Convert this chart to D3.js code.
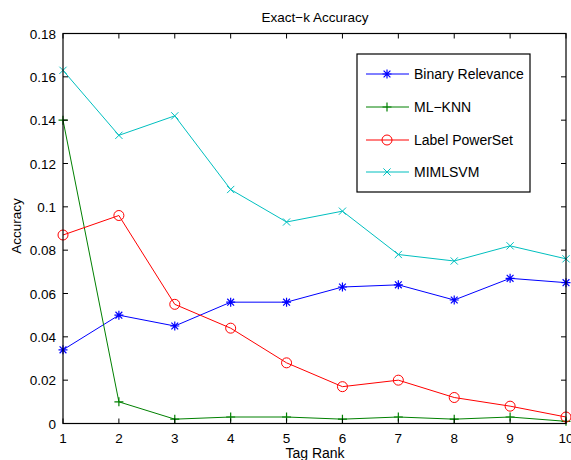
<!DOCTYPE html>
<html><head><meta charset="utf-8">
<script src="https://cdn.jsdelivr.net/npm/d3@7"></script>
<style>body{margin:0;background:#fff}svg{display:block;font-family:"Liberation Sans",Arial,sans-serif}</style>
</head><body>
<script>
const ranks = [1,2,3,4,5,6,7,8,9,10];
const seriesNames = ["Binary Relevance","ML\u2212KNN","Label PowerSet","MIMLSVM"];
const binaryRelevance = [0.034,0.050,0.045,0.056,0.056,0.063,0.064,0.057,0.067,0.065];
const mlKnn = [0.140,0.010,0.002,0.003,0.003,0.002,0.003,0.002,0.003,0.001];
const labelPowerSet = [0.087,0.096,0.055,0.044,0.028,0.017,0.020,0.012,0.008,0.003];
const mimlsvm = [0.163,0.133,0.142,0.108,0.093,0.098,0.078,0.075,0.082,0.076];
const yTicks = [0,0.02,0.04,0.06,0.08,0.1,0.12,0.14,0.16,0.18];
const yTickLabels = ["0","0.02","0.04","0.06","0.08","0.1","0.12","0.14","0.16","0.18"];
const colors = ["#0000ff","#008000","#ff0000","#00bfbf"];
const markers = ["star","plus","circle","x"];
const allValues = [binaryRelevance, mlKnn, labelPowerSet, mimlsvm];

const W=571,H=460;
const svg=d3.select("body").append("svg").attr("width",W).attr("height",H);
const L=63,R=566,T=33.5,B=423.5;
const x=d3.scaleLinear().domain([1,10]).range([L,R]);
const y=d3.scaleLinear().domain([0,0.18]).range([B,T]);
const FS=13.5;

const line=d3.line().x((d,i)=>x(ranks[i])).y(d=>y(d));
function drawMarker(g,type,cx,cy,c){
  const s=4.5;
  if(type==="circle"){g.append("circle").attr("cx",cx).attr("cy",cy).attr("r",5).attr("fill","none").attr("stroke",c).attr("stroke-width",1);}
  else if(type==="plus"){g.append("path").attr("d",`M${cx-s},${cy}H${cx+s}M${cx},${cy-s}V${cy+s}`).attr("stroke",c).attr("stroke-width",1.2);}
  else if(type==="x"){const k=3.6;g.append("path").attr("d",`M${cx-k},${cy-k}L${cx+k},${cy+k}M${cx-k},${cy+k}L${cx+k},${cy-k}`).attr("stroke",c).attr("stroke-width",1);}
  else {const k=3.4;g.append("path").attr("d",`M${cx-s},${cy}H${cx+s}M${cx},${cy-s}V${cy+s}M${cx-k},${cy-k}L${cx+k},${cy+k}M${cx-k},${cy+k}L${cx+k},${cy-k}`).attr("stroke",c).attr("stroke-width",1.2);}
}
allValues.forEach((vals,si)=>{
  const g=svg.append("g");
  g.append("path").datum(vals).attr("d",line).attr("fill","none").attr("stroke",colors[si]).attr("stroke-width",1);
  vals.forEach((v,i)=>drawMarker(g,markers[si],x(ranks[i]),y(v),colors[si]));
});

const ax=svg.append("g");
ax.append("rect").attr("x",L).attr("y",T).attr("width",R-L).attr("height",B-T).attr("fill","none").attr("stroke","#000").attr("stroke-width",1.2);
const tl=5;
ranks.forEach(r=>{
  ax.append("line").attr("x1",x(r)).attr("x2",x(r)).attr("y1",B).attr("y2",B-tl).attr("stroke","#000");
  ax.append("line").attr("x1",x(r)).attr("x2",x(r)).attr("y1",T).attr("y2",T+tl).attr("stroke","#000");
  ax.append("text").attr("x",x(r)).attr("y",B+19).attr("text-anchor","middle").attr("font-size",FS).text(r);
});
yTicks.forEach((t,i)=>{
  ax.append("line").attr("x1",L).attr("x2",L+tl).attr("y1",y(t)).attr("y2",y(t)).attr("stroke","#000");
  ax.append("line").attr("x1",R).attr("x2",R-tl).attr("y1",y(t)).attr("y2",y(t)).attr("stroke","#000");
  ax.append("text").attr("x",L-7).attr("y",y(t)+5).attr("text-anchor","end").attr("font-size",FS).text(yTickLabels[i]);
});
svg.append("text").attr("x",315).attr("y",22).attr("text-anchor","middle").attr("font-size",FS).text("Exact\u2212k Accuracy");
svg.append("text").attr("x",315).attr("y",458).attr("text-anchor","middle").attr("font-size",14).text("Tag Rank");
svg.append("text").attr("transform","translate(21,226) rotate(-90)").attr("text-anchor","middle").attr("font-size",FS).text("Accuracy");

const lg=svg.append("g");
lg.append("rect").attr("x",357).attr("y",54).attr("width",173).attr("height",138).attr("fill","#fff").attr("stroke","#000").attr("stroke-width",1.2);
const ly=[74,107,140,172];
seriesNames.forEach((n,i)=>{
  lg.append("line").attr("x1",366).attr("x2",409).attr("y1",ly[i]).attr("y2",ly[i]).attr("stroke",colors[i]).attr("stroke-width",1);
  drawMarker(lg,markers[i],387,ly[i],colors[i]);
  lg.append("text").attr("x",414).attr("y",ly[i]+5).attr("font-size",14).text(n);
});
</script>
</body></html>
